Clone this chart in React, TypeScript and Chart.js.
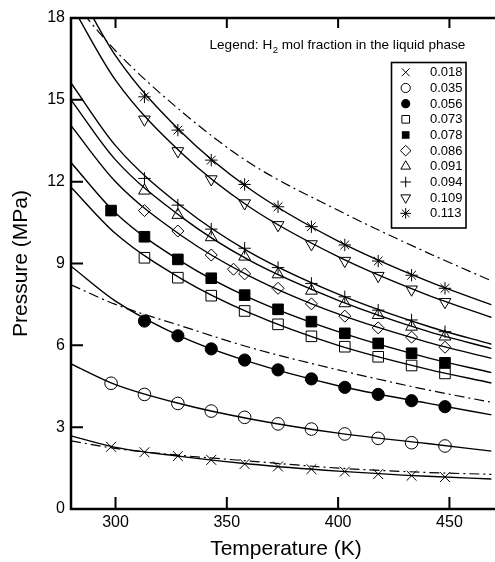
import React, { useEffect, useRef } from 'react';
import { Chart, registerables } from 'chart.js';

Chart.register(...registerables);

const FONT = "'Liberation Sans', Arial, Helvetica, sans-serif";

// Measured temperatures (K)
const T_FULL = [298, 313, 328, 343, 358, 373, 388, 403, 418, 433, 448];
const T_PART = [313, 328, 343, 358, 373, 388, 403, 418, 433, 448];
const T_086 = [313, 328, 343, 353, 358, 373, 388, 403, 418, 433, 448];

// Measured pressures (MPa) per H2 mole fraction
const P_018 = [2.28, 2.08, 1.94, 1.80, 1.65, 1.56, 1.46, 1.37, 1.28, 1.22, 1.17];
const P_035 = [4.61, 4.20, 3.87, 3.59, 3.36, 3.12, 2.93, 2.75, 2.59, 2.43, 2.31];
const P_056 = [6.89, 6.35, 5.87, 5.46, 5.10, 4.77, 4.46, 4.20, 3.97, 3.75];
const P_073 = [9.21, 8.48, 7.82, 7.26, 6.77, 6.33, 5.95, 5.58, 5.26, 4.97];
const P_078 = [10.94, 9.98, 9.15, 8.46, 7.84, 7.32, 6.87, 6.44, 6.07, 5.71, 5.36];
const P_086 = [10.94, 10.19, 9.31, 8.79, 8.62, 8.09, 7.52, 7.07, 6.64, 6.30, 5.93];
const P_091 = [11.67, 10.78, 9.96, 9.25, 8.60, 8.00, 7.54, 7.11, 6.68, 6.32];
const P_094 = [12.12, 11.14, 10.26, 9.56, 8.85, 8.27, 7.78, 7.29, 6.93, 6.50];
const P_109 = [14.28, 13.12, 12.09, 11.21, 10.41, 9.71, 9.10, 8.55, 8.05, 7.59];
const P_113 = [15.11, 13.89, 12.79, 11.90, 11.08, 10.35, 9.68, 9.09, 8.57, 8.09];

// Correlation curves read at these temperatures
const CURVE_T = [280, 300, 330, 360, 400, 440, 469];
const C_018 = [2.68, 2.26, 1.92, 1.65, 1.39, 1.20, 1.10];
const C_035 = [5.32, 4.56, 3.84, 3.31, 2.78, 2.40, 2.12];
const C_056 = [8.9, 7.62, 6.30, 5.40, 4.52, 3.88, 3.45];
const C_073 = [11.8, 10.1, 8.42, 7.2, 6.0, 5.13, 4.62];
const C_078 = [12.7, 10.85, 9.05, 7.75, 6.50, 5.55, 5.0];
const C_086 = [14.05, 12.0, 10.0, 8.55, 7.15, 6.12, 5.52];
const C_091 = [15.0, 12.8, 10.68, 9.12, 7.65, 6.52, 5.88];
const C_094 = [15.62, 13.32, 11.07, 9.43, 7.88, 6.71, 6.04];
const C_109 = [18.5, 15.72, 13.02, 11.08, 9.25, 7.85, 7.02];
const C_113 = [19.5, 16.62, 13.78, 11.75, 9.82, 8.36, 7.48];
// Dash-dot reference curves
const DD_HIGH = [18.7, 16.8, 14.55, 12.7, 10.95, 9.4, 8.36];
const DD_MID = [8.22, 7.5, 6.70, 5.93, 5.10, 4.37, 3.91];
const DD_LOW = [2.50, 2.22, 1.96, 1.76, 1.50, 1.34, 1.27];

const LABELS = ['0.018', '0.035', '0.056', '0.073', '0.078', '0.086', '0.091', '0.094', '0.109', '0.113'];
const X_TICKS = [300, 350, 400, 450];
const Y_TICKS = [0, 3, 6, 9, 12, 15, 18];

const SERIES = [
  { t: T_FULL, p: P_018, style: 'crossRot', filled: false, r: 7, rot: 0 },
  { t: T_FULL, p: P_035, style: 'circle', filled: false, r: 6.3, rot: 0 },
  { t: T_PART, p: P_056, style: 'circle', filled: true, r: 6.1, rot: 0 },
  { t: T_PART, p: P_073, style: 'rect', filled: false, r: 7.5, rot: 0 },
  { t: T_FULL, p: P_078, style: 'rect', filled: true, r: 7.5, rot: 0 },
  { t: T_086, p: P_086, style: 'rectRot', filled: false, r: 6, rot: 0 },
  { t: T_PART, p: P_091, style: 'triangle', filled: false, r: 6.8, rot: 0 },
  { t: T_PART, p: P_094, style: 'cross', filled: false, r: 6.2, rot: 0 },
  { t: T_PART, p: P_109, style: 'triangle', filled: false, r: 6.8, rot: 180 },
  { t: T_PART, p: P_113, style: 'star', filled: false, r: 6.2, rot: 0 },
];

const CURVES = [
  { v: C_018, dash: false }, { v: C_035, dash: false }, { v: C_056, dash: false },
  { v: C_073, dash: false }, { v: C_078, dash: false }, { v: C_086, dash: false },
  { v: C_091, dash: false }, { v: C_094, dash: false }, { v: C_109, dash: false },
  { v: C_113, dash: false },
  { v: DD_HIGH, dash: true }, { v: DD_MID, dash: true }, { v: DD_LOW, dash: true },
];

function drawMarker(ctx: CanvasRenderingContext2D, style: string, x: number, y: number, r: number, filled: boolean, rot: number) {
  ctx.save();
  ctx.beginPath();
  ctx.lineWidth = 1;
  ctx.strokeStyle = '#000';
  ctx.fillStyle = '#000';
  if (style === 'crossRot') {
    const d = r * Math.SQRT1_2;
    ctx.moveTo(x - d, y - d); ctx.lineTo(x + d, y + d);
    ctx.moveTo(x - d, y + d); ctx.lineTo(x + d, y - d);
    ctx.stroke();
  } else if (style === 'circle') {
    ctx.arc(x, y, r, 0, Math.PI * 2);
    if (filled) ctx.fill(); else ctx.stroke();
  } else if (style === 'rect') {
    const s = r * Math.SQRT1_2;
    ctx.rect(x - s, y - s, 2 * s, 2 * s);
    if (filled) ctx.fill(); else ctx.stroke();
  } else if (style === 'rectRot') {
    ctx.moveTo(x, y - r); ctx.lineTo(x + r, y); ctx.lineTo(x, y + r); ctx.lineTo(x - r, y); ctx.closePath();
    ctx.stroke();
  } else if (style === 'triangle') {
    let a = (rot * Math.PI) / 180;
    ctx.moveTo(x + Math.sin(a) * r, y - Math.cos(a) * r);
    a += (2 * Math.PI) / 3;
    ctx.lineTo(x + Math.sin(a) * r, y - Math.cos(a) * r);
    a += (2 * Math.PI) / 3;
    ctx.lineTo(x + Math.sin(a) * r, y - Math.cos(a) * r);
    ctx.closePath();
    ctx.stroke();
  } else if (style === 'cross') {
    ctx.moveTo(x - r, y); ctx.lineTo(x + r, y);
    ctx.moveTo(x, y - r); ctx.lineTo(x, y + r);
    ctx.stroke();
  } else if (style === 'star') {
    const d = r * Math.SQRT1_2;
    ctx.moveTo(x - r, y); ctx.lineTo(x + r, y);
    ctx.moveTo(x, y - r); ctx.lineTo(x, y + r);
    ctx.moveTo(x - d, y - d); ctx.lineTo(x + d, y + d);
    ctx.moveTo(x - d, y + d); ctx.lineTo(x + d, y - d);
    ctx.stroke();
  }
  ctx.restore();
}

const framePlugin = {
  id: 'frame',
  afterDatasetsDraw(chart: any) {
    const { ctx, chartArea, scales } = chart;
    const { left, right, top, bottom } = chartArea;
    const xs = scales.x;
    const ys = scales.y;
    ctx.save();
    ctx.strokeStyle = '#000';
    ctx.lineJoin = 'miter';
    ctx.lineWidth = 2.5;
    ctx.beginPath();
    ctx.moveTo(right + 6, top);
    ctx.lineTo(left, top);
    ctx.lineTo(left, bottom);
    ctx.lineTo(right + 6, bottom);
    ctx.stroke();

    ctx.lineWidth = 2;
    ctx.beginPath();
    Y_TICKS.forEach((v) => {
      const py = ys.getPixelForValue(v);
      ctx.moveTo(left, py);
      ctx.lineTo(left + 12, py);
    });
    X_TICKS.forEach((v) => {
      const px = xs.getPixelForValue(v);
      ctx.moveTo(px, bottom);
      ctx.lineTo(px, bottom - 12);
      ctx.moveTo(px, top);
      ctx.lineTo(px, top + 10);
    });
    ctx.stroke();

    // axis titles
    ctx.fillStyle = '#000';
    ctx.font = `21px ${FONT}`;
    ctx.textAlign = 'center';
    ctx.textBaseline = 'middle';
    ctx.fillText('Temperature (K)', (left + 497) / 2 + 2, 549.5);
    ctx.save();
    ctx.translate(21.5, (top + bottom) / 2);
    ctx.rotate(-Math.PI / 2);
    ctx.fillText('Pressure (MPa)', 0, 0);
    ctx.restore();

    // legend caption
    ctx.textAlign = 'left';
    ctx.textBaseline = 'alphabetic';
    ctx.font = `13.6px ${FONT}`;
    let cx = 209.5;
    const by = 49;
    const p1 = 'Legend: H';
    ctx.fillText(p1, cx, by);
    cx += ctx.measureText(p1).width;
    ctx.font = `9.5px ${FONT}`;
    ctx.fillText('2', cx + 0.5, by + 4);
    cx += ctx.measureText('2').width + 0.5;
    ctx.font = `13.6px ${FONT}`;
    ctx.fillText(' mol fraction in the liquid phase', cx, by);

    // legend box
    const bx = 391.5, bt = 62.5, bw = 74.5, bh = 165.5;
    ctx.fillStyle = '#fff';
    ctx.fillRect(bx, bt, bw, bh);
    ctx.lineWidth = 1.6;
    ctx.strokeStyle = '#000';
    ctx.strokeRect(bx, bt, bw, bh);
    ctx.fillStyle = '#000';
    ctx.font = `13px ${FONT}`;
    ctx.textBaseline = 'middle';
    const legR: Record<string, number> = { crossRot: 5.5, circle: 4.6, rect: 5.4, rectRot: 5.3, triangle: 5.6, cross: 5.3, star: 5.3 };
    SERIES.forEach((s, i) => {
      const ry = 72.3 + i * 15.67;
      drawMarker(ctx, s.style, 405.7, ry, legR[s.style], s.filled, s.rot);
      ctx.fillStyle = '#000';
      ctx.fillText(LABELS[i], 430, ry + 0.5);
    });
    ctx.restore();
  },
};

export default function App() {
  const ref = useRef<HTMLCanvasElement>(null);
  useEffect(() => {
    const canvas = ref.current;
    if (!canvas) return;
    Chart.defaults.font.family = FONT;
    Chart.defaults.color = '#000';
    const datasets: any[] = [];
    CURVES.forEach((c) => {
      datasets.push({
        data: CURVE_T.map((t, i) => ({ x: t, y: c.v[i] })),
        borderColor: '#000',
        borderWidth: c.dash ? 1.2 : 1.4,
        borderDash: c.dash ? [10, 4, 2, 4] : [],
        pointRadius: 0,
        fill: false,
        showLine: true,
        cubicInterpolationMode: 'monotone',
      });
    });
    SERIES.forEach((s) => {
      datasets.push({
        data: s.t.map((t, i) => ({ x: t, y: s.p[i] })),
        showLine: false,
        pointStyle: s.style,
        pointRadius: s.r,
        pointRotation: s.rot,
        pointBackgroundColor: s.filled ? '#000' : 'rgba(0,0,0,0)',
        pointBorderColor: '#000',
        pointBorderWidth: 1,
      });
    });
    const chart = new Chart(canvas, {
      type: 'line',
      data: { datasets },
      options: {
        animation: false,
        responsive: false,
        events: [],
        layout: { padding: { left: 0, top: 18, right: 3, bottom: 0 } },
        plugins: { legend: { display: false }, tooltip: { enabled: false } },
        scales: {
          x: {
            type: 'linear',
            min: 280,
            max: 468.9,
            grid: { display: false, drawTicks: false },
            border: { display: false },
            afterBuildTicks: (scale: any) => {
              scale.ticks = X_TICKS.map((v) => ({ value: v }));
            },
            afterFit: (scale: any) => {
              scale.height = 53;
            },
            ticks: { autoSkip: false, maxRotation: 0, padding: 4, color: '#000', font: { size: 16, family: FONT } },
          },
          y: {
            type: 'linear',
            min: 0,
            max: 18,
            grid: { display: false, drawTicks: false },
            border: { display: false },
            afterBuildTicks: (scale: any) => {
              scale.ticks = Y_TICKS.map((v) => ({ value: v }));
            },
            afterFit: (scale: any) => {
              scale.width = 71;
            },
            ticks: { padding: 6, color: '#000', font: { size: 16, family: FONT } },
          },
        },
      } as any,
      plugins: [framePlugin],
    });
    return () => chart.destroy();
  }, []);
  return (
    <div style={{ position: 'fixed', left: 0, top: 0, width: 495, height: 562, overflow: 'hidden', background: '#fff' }}>
      <canvas ref={ref} width={500} height={562} style={{ display: 'block', width: 500, height: 562 }} />
    </div>
  );
}
